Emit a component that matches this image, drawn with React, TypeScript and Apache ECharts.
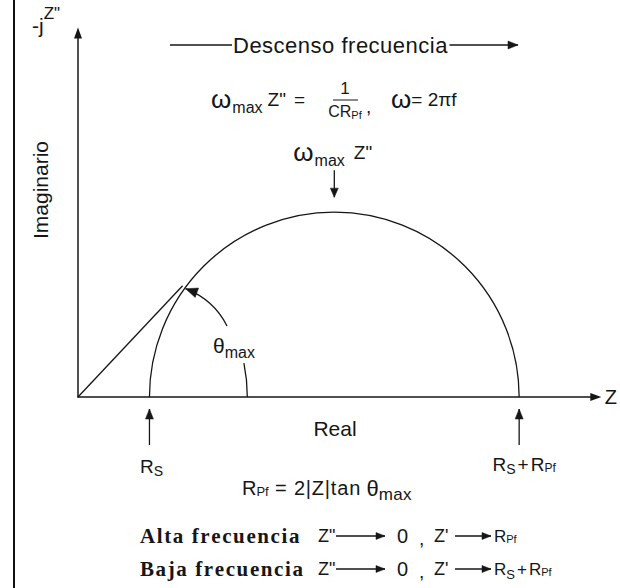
import React, { useEffect, useRef } from "react";
import * as echarts from "echarts";

// Axis extents in impedance units (real Z' and imaginary -Z")
const realRange = [0, 100];
const imagRange = [0, 70];
// Series resistance and polarisation resistance on the real axis: [R_S, R_Pf]
const resistances = [13.8, 71.4];
// Point where the line drawn from the origin reaches the arc (θmax)
const tangentPoint = [20.2, 21.4];
// Angle marker around the origin: [radius in real units, sweep in degrees]
const thetaMarker = [32.7, 11.5];

const SANS = '"Liberation Sans", Arial, sans-serif';
const SERIF = '"Liberation Serif", "Times New Roman", serif';
const INK = "#161616";

const measureCtx = document.createElement("canvas").getContext("2d") as CanvasRenderingContext2D;
function textWidth(t: string, font: string) {
  measureCtx.font = font;
  return measureCtx.measureText(t).width;
}

type Piece = { t: string; size: number; dy?: number; dx?: number; family?: string; weight?: string; sp?: number };

function fontOf(p: Piece) {
  return `${p.weight || "normal"} ${p.size}px ${p.family || SANS}`;
}

function txt(x: number, y: number, text: string, font: string, extra: any = {}) {
  return {
    type: "text",
    x,
    y,
    silent: true,
    z: 10,
    ...extra,
    style: {
      text,
      font,
      fill: INK,
      align: extra.align || "left",
      verticalAlign: "middle",
      textAlign: extra.align || "left",
      textVerticalAlign: "middle",
    },
  };
}

// Expands a piece into single characters when it carries letter spacing
function explode(pieces: Piece[]): Piece[] {
  const out: Piece[] = [];
  pieces.forEach((p) => {
    if (!p.sp) {
      out.push(p);
      return;
    }
    Array.from(p.t).forEach((ch, i) => {
      out.push({ ...p, t: ch, sp: 0, dx: (i === 0 ? p.dx || 0 : 0) + (i === 0 ? 0 : p.sp) });
    });
  });
  return out;
}

// Lays a sequence of text pieces side by side (for sub/superscripts)
function run(x: number, y: number, pieces: Piece[], align: "left" | "center" = "left") {
  const parts = explode(pieces);
  const widths = parts.map((p) => textWidth(p.t, fontOf(p)) + (p.dx || 0));
  const total = widths.reduce((a, b) => a + b, 0);
  let cx = align === "center" ? x - total / 2 : x;
  return parts.map((p, i) => {
    const el = txt(cx + (p.dx || 0), y + (p.dy || 0), p.t, fontOf(p));
    cx += widths[i];
    return el;
  });
}

function runWidth(pieces: Piece[]) {
  return explode(pieces).reduce((a, p) => a + textWidth(p.t, fontOf(p)) + (p.dx || 0), 0);
}

function arrowHead(tipX: number, tipY: number, fromX: number, fromY: number, len = 10, half = 4) {
  const dx = tipX - fromX;
  const dy = tipY - fromY;
  const d = Math.hypot(dx, dy) || 1;
  const ux = dx / d;
  const uy = dy / d;
  const bx = tipX - ux * len;
  const by = tipY - uy * len;
  return {
    type: "polygon",
    silent: true,
    z: 10,
    shape: {
      points: [
        [tipX, tipY],
        [bx - uy * half, by + ux * half],
        [bx + uy * half, by - ux * half],
      ],
    },
    style: { fill: INK, stroke: INK, lineWidth: 0.5 },
  };
}

function arrow(x1: number, y1: number, x2: number, y2: number, len = 10, half = 4) {
  return [
    {
      type: "line",
      silent: true,
      z: 10,
      shape: { x1, y1, x2, y2 },
      style: { stroke: INK, lineWidth: 1.3 },
    },
    arrowHead(x2, y2, x1, y1, len, half),
  ];
}

export default function App() {
  const ref = useRef<HTMLDivElement>(null);

  useEffect(() => {
    document.body.style.margin = "0";
    const chart = echarts.init(ref.current as HTMLDivElement, null, { renderer: "svg" });
    const [rS, rPf] = resistances;

    const axisCommon = {
      type: "value",
      axisTick: { show: false },
      axisLabel: { show: false },
      splitLine: { show: false },
      axisLine: {
        show: true,
        onZero: false,
        symbol: ["none", "triangle"],
        symbolSize: [8, 11],
        lineStyle: { color: INK, width: 1.5 },
      },
    };

    chart.setOption({
      animation: false,
      backgroundColor: "#ffffff",
      grid: { left: 78, right: 22, top: 33, bottom: 191 },
      xAxis: {
        ...axisCommon,
        min: realRange[0],
        max: realRange[1],
        name: "Z",
        nameLocation: "end",
        nameGap: 9,
        nameTextStyle: { fontFamily: SANS, fontSize: 20, color: INK },
      },
      yAxis: { ...axisCommon, min: imagRange[0], max: imagRange[1] },
      series: [
        {
          // Nyquist semicircle from R_S to R_S + R_Pf
          type: "custom",
          silent: true,
          data: [[rS, rPf]],
          renderItem: (_p: any, api: any) => {
            const start = api.value(0);
            const width = api.value(1);
            const c = api.coord([start + width / 2, 0]);
            const r = api.size([width / 2, 0])[0];
            return {
              type: "arc",
              shape: { cx: c[0], cy: c[1], r, startAngle: Math.PI, endAngle: 2 * Math.PI, clockwise: true },
              style: { stroke: INK, fill: null, lineWidth: 1.3 },
            };
          },
        },
        {
          // Line from the origin to the θmax point
          type: "line",
          silent: true,
          symbol: "none",
          data: [[0, 0], tangentPoint],
          lineStyle: { color: INK, width: 1.3 },
        },
        {
          // Angle marker at the origin
          type: "custom",
          silent: true,
          data: [thetaMarker],
          renderItem: (_p: any, api: any) => {
            const o = api.coord([0, 0]);
            const r = api.size([api.value(0), 0])[0];
            const sweep = (api.value(1) * Math.PI) / 180;
            return {
              type: "arc",
              shape: { cx: o[0], cy: o[1], r, startAngle: -sweep, endAngle: 0, clockwise: true },
              style: { stroke: INK, fill: null, lineWidth: 1.3 },
            };
          },
        },
      ],
    });

    const px = (p: number[]) => chart.convertToPixel({ gridIndex: 0 }, p) as number[];
    const left = px([rS, 0]);
    const right = px([rS + rPf, 0]);
    const center = px([rS + rPf / 2, 0]);
    const radius = center[0] - left[0];
    const top = center[1] - radius;
    const tp = px(tangentPoint);
    const axisY = left[1];

    const g: any[] = [];

    // Frame line on the left
    g.push({
      type: "line",
      silent: true,
      shape: { x1: 14, y1: 0, x2: 14, y2: 588 },
      style: { stroke: "#111", lineWidth: 2 },
    });

    // Vertical axis title
    g.push(...run(32, 25, [
      { t: "-j", size: 21 },
      { t: 'Z"', size: 17, dy: -12 },
    ]));
    g.push(txt(40, 190, "Imaginario", `normal 21px ${SANS}`, { align: "center", rotation: Math.PI / 2 }));

    // Frequency direction banner
    const headPieces: Piece[] = [{ t: "Descenso frecuencia", size: 22, sp: 0.5 }];
    const headX = 233;
    const headW = runWidth(headPieces);
    g.push({ type: "line", silent: true, shape: { x1: 170, y1: 45, x2: headX - 1, y2: 45 }, style: { stroke: INK, lineWidth: 1.3 } });
    g.push(...run(headX, 45, headPieces));
    g.push(...arrow(headX + headW + 2, 45, 518, 45, 10, 4));

    // ωmax Z" = 1 / (C R_Pf) ,  ω = 2πf
    g.push(...run(211, 99, [
      { t: "ω", size: 26 },
      { t: "max", size: 16, dy: 8, dx: 1 },
      { t: 'Z"', size: 19, dx: 5 },
      { t: "=", size: 19, dx: 8 },
    ]));
    g.push(txt(345, 88, "1", `normal 17px ${SANS}`, { align: "center" }));
    g.push({ type: "line", silent: true, shape: { x1: 333, y1: 100, x2: 358, y2: 100 }, style: { stroke: INK, lineWidth: 1 } });
    g.push(...run(345, 111, [
      { t: "CR", size: 16 },
      { t: "Pf", size: 11, dy: 4 },
    ], "center"));
    g.push(txt(366, 106, ",", `normal 19px ${SANS}`));
    g.push(...run(391, 99, [
      { t: "ω", size: 26 },
      { t: "= 2πf", size: 19 },
    ]));

    // ωmax marker above the top of the arc
    g.push(...run(center[0] - 41, top - 60, [
      { t: "ω", size: 26 },
      { t: "max", size: 16, dy: 8, dx: 1 },
      { t: 'Z"', size: 19, dx: 9 },
    ]));
    g.push(...arrow(center[0], top - 42, center[0], top - 15, 9, 4));

    // θmax label with its curved pointer
    g.push(...run(213, 345, [
      { t: "θ", size: 21 },
      { t: "max", size: 16, dy: 7 },
    ]));
    const tip = [tp[0] + 3, tp[1] + 3];
    const ctrl = [214, 300];
    g.push({
      type: "bezierCurve",
      silent: true,
      z: 10,
      shape: { x1: 227, y1: 326, x2: tip[0], y2: tip[1], cpx1: ctrl[0], cpy1: ctrl[1] },
      style: { stroke: INK, fill: null, lineWidth: 1.3 },
    });
    g.push(arrowHead(tip[0], tip[1], ctrl[0] - 8, ctrl[1] - 4, 12, 5));

    // Real axis title and resistance markers
    g.push(txt(335, 428, "Real", `normal 21px ${SANS}`, { align: "center" }));
    g.push(...arrow(left[0], axisY + 48, left[0], axisY + 12, 10, 4));
    g.push(...arrow(right[0], axisY + 48, right[0], axisY + 12, 10, 4));
    g.push(...run(left[0] + 2, axisY + 69, [
      { t: "R", size: 19 },
      { t: "S", size: 14, dy: 5 },
    ], "center"));
    g.push(...run(right[0] + 5, axisY + 67, [
      { t: "R", size: 19 },
      { t: "S", size: 14, dy: 5 },
      { t: "+", size: 19, dx: 2 },
      { t: "R", size: 19, dx: 2 },
      { t: "Pf", size: 12, dy: 4 },
    ], "center"));

    // R_Pf = 2|Z| tan θmax
    g.push(...run(242, 488, [
      { t: "R", size: 20 },
      { t: "Pf", size: 13, dy: 3 },
      { t: " = 2|Z|tan ", size: 20, sp: 0.8 },
      { t: "θ", size: 22 },
      { t: "max", size: 17, dy: 6, sp: 0.3 },
    ]));

    // Limits at high and low frequency
    const rows: [string, number, Piece[]][] = [
      ["Alta frecuencia", 536, [{ t: "R", size: 17 }, { t: "Pf", size: 11, dy: 3 }]],
      ["Baja frecuencia", 569, [
        { t: "R", size: 17 },
        { t: "S", size: 13, dy: 5 },
        { t: "+", size: 17, dx: 2 },
        { t: "R", size: 17, dx: 2 },
        { t: "Pf", size: 11, dy: 3 },
      ]],
    ];
    rows.forEach(([label, y, tail]) => {
      g.push(...run(140, y, [{ t: label, size: 21, weight: "bold", family: SERIF, sp: 1.6 }]));
      g.push(txt(318, y, 'Z"', `normal 18px ${SANS}`));
      g.push(...arrow(336, y, 385, y, 9, 3.5));
      g.push(txt(397, y, "0", `normal 20px ${SANS}`));
      g.push(txt(419, y + 2, ",", `normal 19px ${SANS}`));
      g.push(txt(434, y, "Z'", `normal 18px ${SANS}`));
      g.push(...arrow(455, y, 491, y, 9, 3.5));
      g.push(...run(494, y, tail));
    });

    chart.setOption({ graphic: { elements: g } });

    return () => chart.dispose();
  }, []);

  return <div ref={ref} style={{ width: 620, height: 588 }} />;
}
